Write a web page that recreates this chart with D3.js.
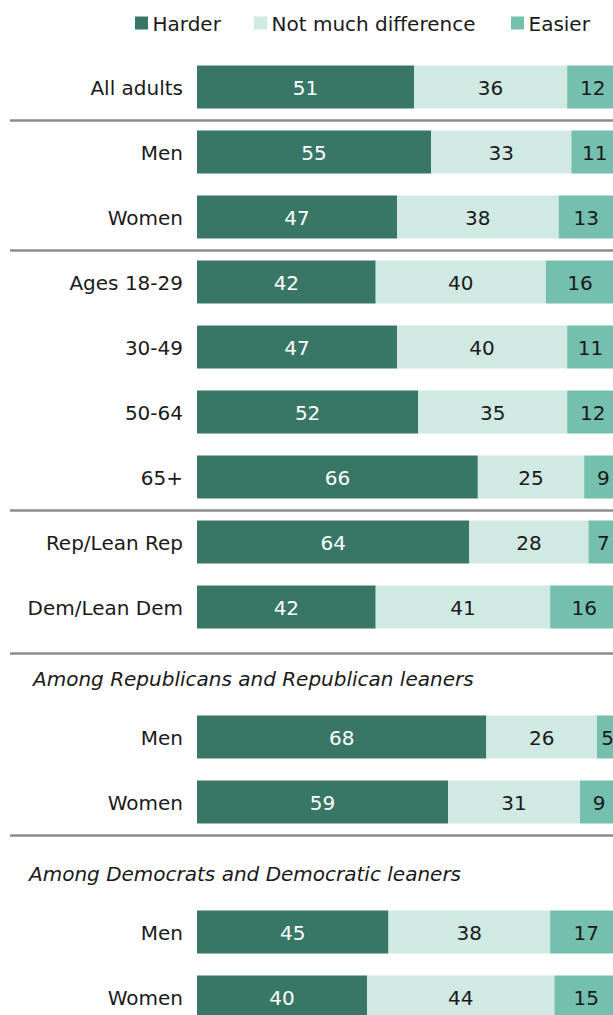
<!DOCTYPE html>
<html><head><meta charset="utf-8">
<script src="https://cdn.jsdelivr.net/npm/d3@7"></script>
<style>body{margin:0;background:#fff;}svg{display:block;font-family:"DejaVu Sans",sans-serif;}</style>
</head><body><svg id="c" width="613" height="1015"></svg>
<script>
const categories = ["All adults","Men","Women","Ages 18-29","30-49","50-64","65+","Rep/Lean Rep","Dem/Lean Dem","Men","Women","Men","Women"];
const slots =      [0,1,2,3,4,5,6,7,8,10,11,13,14];
const harder =     [51,55,47,42,47,52,66,64,42,68,59,45,40];
const notMuch =    [36,33,38,40,40,35,25,28,41,26,31,38,44];
const easier =     [12,11,13,16,11,12,9,7,16,5,9,17,15];
const seriesNames = ["Harder","Not much difference","Easier"];
const colors = ["#387766","#d1e9e3","#74bfae"];
const textColors = ["#ffffff","#1a1a1a","#1a1a1a"];
const subtitles = [{slot:9,text:"Among Republicans and Republican leaners",x:33},{slot:12,text:"Among Democrats and Democratic leaners",x:29}];
const separators = [0.5,2.5,6.5,8.7,11.5];

const svg = d3.select("#c");
const x = d3.scaleLinear().domain([0,100]).range([197,622.5]);
const y = d3.scaleLinear().domain([0,14]).range([87,997]);
const barH = 43;
const fs = 20;

// legend
const legendX = [135,254,511];
const lg = svg.append("g");
seriesNames.forEach((s,i)=>{
  lg.append("rect").attr("x",legendX[i]).attr("y",16.5).attr("width",13).attr("height",13).attr("fill",colors[i]);
  lg.append("text").attr("x",legendX[i]+17.5).attr("y",30.5).attr("font-size",fs).attr("fill","#1a1a1a").text(s);
});

// separators
svg.selectAll("line.sep").data(separators).join("line")
  .attr("x1",10).attr("x2",613).attr("y1",d=>y(d)+1).attr("y2",d=>y(d)+1)
  .attr("stroke","#8c8c8c").attr("stroke-width",2.5);

// subtitles
svg.selectAll("text.sub").data(subtitles).join("text")
  .attr("x",d=>d.x).attr("y",d=>y(d.slot)+13.5).attr("font-size",fs).attr("font-style","italic").attr("fill","#1a1a1a").text(d=>d.text);

const rows = categories.map((c,i)=>({cat:c,slot:slots[i],vals:[harder[i],notMuch[i],easier[i]]}));
const g = svg.selectAll("g.row").data(rows).join("g");
g.append("text").attr("x",183).attr("y",d=>y(d.slot)+8).attr("text-anchor","end").attr("font-size",fs).attr("fill","#1a1a1a").text(d=>d.cat);
g.each(function(d){
  let acc=0;
  const sel=d3.select(this);
  d.vals.forEach((v,k)=>{
    const x0=x(acc), x1=x(acc+v);
    sel.append("rect").attr("x",x0).attr("y",y(d.slot)-barH/2).attr("width",x1-x0).attr("height",barH).attr("fill",colors[k]);
    sel.append("text").attr("x",(x0+x1)/2).attr("y",y(d.slot)+8).attr("text-anchor","middle").attr("font-size",fs).attr("fill",textColors[k]).text(v);
    acc+=v;
  });
});
</script></body></html>
